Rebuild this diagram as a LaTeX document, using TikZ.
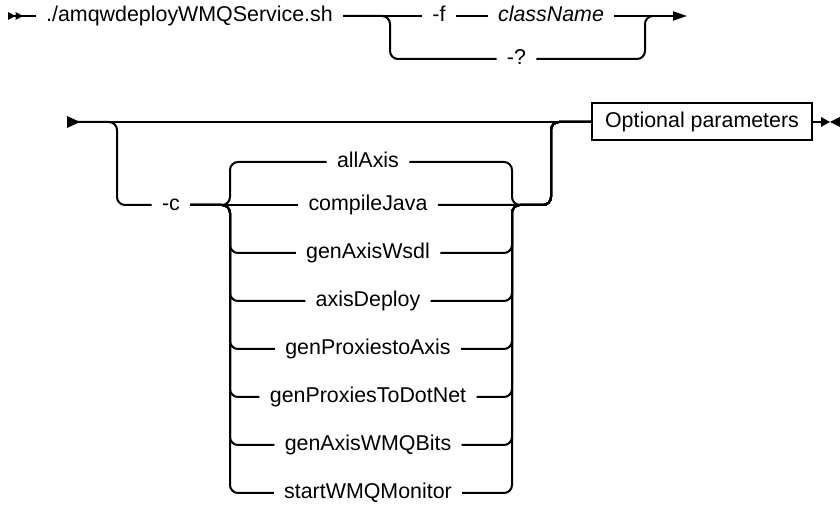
\documentclass[tikz,border=0pt]{standalone}
\usepackage{fontspec}
\setmainfont{Liberation Sans}
\usepackage{tikz}
\usetikzlibrary{positioning,shapes,arrows.meta}
\tikzset{
    word/.style={
        font=\fontsize{10.7}{12.8}\selectfont,
        inner xsep=5pt,
        inner ysep=0pt,
        text height=8pt,
        text depth=2.2pt
    },
    rail/.style={
        line width=1pt,
        rounded corners=4pt
    }
}
\tikzstyle{param} = [rectangle, draw=black, line width=1pt, minimum width=110pt, minimum height=18.5pt, text centered, font=\fontsize{10.7}{12.8}\selectfont]
\tikzstyle{arrow} = [line width=1pt,-{Triangle[length=7pt,width=4.5pt]}]

\begin{document}
\begin{tikzpicture}[x=0.5pt, y=-0.5pt, node distance=24pt]
          \useasboundingbox (0,0) rectangle (840,506);
          % first line
          \coordinate (s1) at (8,16);
          \coordinate (sp1) at (390,16);
          \coordinate (mg1) at (645,16);
          \coordinate (end1) at (687,16);
          \node (cmd) [word] at (189.5,16) {./amqwdeployWMQService.sh};
          \node (f) [word] at (439,16) {-f};
          \node (cn) [word] at (551,16) {\itshape className};
          \node (q) [word] at (516.5,59) {-?};
          \fill (8,12) -- (15.5,16) -- (8,20) -- cycle;
          \fill (15.5,12) -- (23,16) -- (15.5,20) -- cycle;
          \draw [rail] (s1) -- (cmd.west);
          \draw [rail] (cmd.east) -- (f.west);
          \draw [rail] (f.east) -- (cn.west);
          \draw [arrow] (cn.east) -- (end1);
          \draw [rail] (cmd.east) -- (sp1) |- (q.west);
          \draw [rail] (q.east) -| (mg1) -- ([xshift=4pt]mg1);
          % second line
          \coordinate (s2) at (67,122);
          \coordinate (sp2) at (117,122);
          \coordinate (jl) at (230,205);
          \coordinate (jr) at (512,205);
          \coordinate (mr) at (551,205);
          \coordinate (e2) at (822,122);
          \node (c) [word] at (171,205) {-c};
          \node (cj) [word] at (368,205) {compileJava};
          \node (allaxis) [word, above of=cj, node distance=21.5pt] {allAxis};
          \node (wsdl) [word, below of=cj] {genAxisWsdl};
          \node (deploy) [word, below of=wsdl] {axisDeploy};
          \node (toaxis) [word, below of=deploy] {genProxiestoAxis};
          \node (dotnet) [word, below of=toaxis] {genProxiesToDotNet};
          \node (bits) [word, below of=dotnet] {genAxisWMQBits};
          \node (monitor) [word, below of=bits] {startWMQMonitor};
          \node (box) [param] at (702,122) {Optional parameters};
          \fill (67,116) -- (80,122) -- (67,128) -- cycle;
          \draw [rail] (s2) -- (box.west);
          \draw [rail] (s2) -- (sp2) |- (c.west);
          \draw [rail] (c.east) -- (cj.west);
          \draw [rail] (cj.east) -- (mr) |- (box.west);
          \foreach \o in {allaxis,wsdl,deploy,toaxis,dotnet,bits,monitor} {
            \draw [rail] (c.east) -- (jl) |- (\o.west);
            \draw [rail] (\o.east) -| (jr) -- (mr) |- (box.west);
          }
          \draw [rail] (box.east) -- (e2);
          \fill (821,117) -- (830,122) -- (821,127) -- cycle;
          \fill (840,117) -- (830,122) -- (840,127) -- cycle;
        \end{tikzpicture}
\end{document}
